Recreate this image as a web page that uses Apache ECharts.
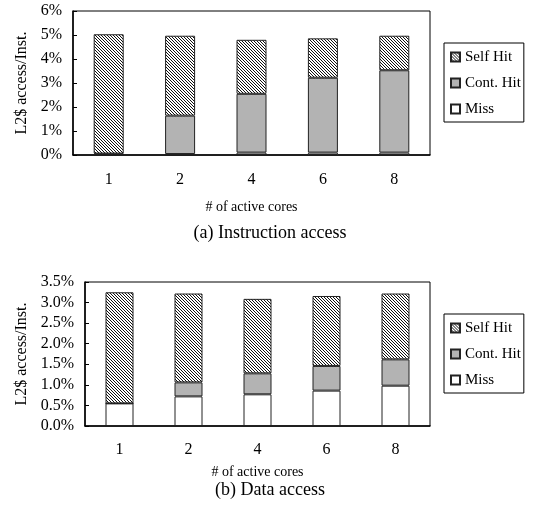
<!DOCTYPE html>
<html>
<head>
<meta charset="utf-8">
<script src="https://cdn.jsdelivr.net/npm/echarts@6/dist/echarts.min.js"></script>
<style>
html,body{margin:0;padding:0;background:#fff}
#main{width:535px;height:517px}
</style>
</head>
<body>
<div id="main"></div>
<script>
var cores = ['1', '2', '4', '6', '8'];

// (a) instruction access, % of instructions
var instMiss = [0.03, 0.04, 0.1, 0.1, 0.1];
var instCont = [0.03, 1.6, 2.45, 3.12, 3.43];
var instSelf = [4.97, 3.33, 2.25, 1.64, 1.44];

// (b) data access
var dataMiss = [0.55, 0.72, 0.77, 0.86, 0.98];
var dataCont = [0.0, 0.34, 0.51, 0.6, 0.64];
var dataSelf = [2.7, 2.16, 1.81, 1.7, 1.6];

var serif = 'Liberation Serif';

// hatch pattern for self hit
var hatch = document.createElement('canvas');
hatch.width = 3;
hatch.height = 3;
var hctx = hatch.getContext('2d');
hctx.fillStyle = '#fff';
hctx.fillRect(0, 0, 3, 3);
hctx.fillStyle = '#111';
for (var i = 0; i < 3; i++) {
	hctx.fillRect(i, i, 1, 1);
}

function bar(name, data, idx, color, w) {
	return {
		name: name,
		type: 'bar',
		stack: 's' + idx,
		xAxisIndex: idx,
		yAxisIndex: idx,
		barWidth: w,
		data: data,
		itemStyle: {color: color, borderColor: '#222', borderWidth: 1},
		animation: false
	};
}

function xAx(idx, margin, gap) {
	return {
		type: 'category',
		gridIndex: idx,
		data: cores,
		name: '# of active cores',
		nameLocation: 'middle',
		nameGap: gap,
		nameTextStyle: {fontFamily: serif, fontSize: 14, color: '#000'},
		axisLine: {lineStyle: {color: '#000', width: 1.5}},
		axisTick: {inside: true, length: 4, lineStyle: {color: '#000'}},
		axisLabel: {fontFamily: serif, fontSize: 16, color: '#000', margin: margin}
	};
}

function yAx(idx, max, step, dec, gap) {
	return {
		type: 'value',
		gridIndex: idx,
		min: 0,
		max: max,
		interval: step,
		name: 'L2$ access/Inst.',
		nameLocation: 'middle',
		nameGap: gap,
		nameTextStyle: {fontFamily: serif, fontSize: 16, color: '#000'},
		splitLine: {show: false},
		axisLine: {show: true, lineStyle: {color: '#000', width: 1.5}},
		axisTick: {show: true, inside: true, length: 4, lineStyle: {color: '#000'}},
		axisLabel: {
			fontFamily: serif, fontSize: 16, color: '#000', margin: 11,
			formatter: function(v) { return v.toFixed(dec) + '%'; }
		}
	};
}

function leg(idx, top) {
	return {
		orient: 'vertical',
		left: 444,
		top: top,
		data: ['Self Hit', 'Cont. Hit', 'Miss'],
		backgroundColor: '#fff',
		borderColor: '#000',
		borderWidth: 1,
		padding: [6, 3, 5, 6],
		itemGap: 10,
		itemWidth: 9,
		itemHeight: 9,
		icon: 'rect',
		selectedMode: false,
		textStyle: {fontFamily: serif, fontSize: 15, color: '#000', lineHeight: 16}
	};
}

var hatchFill = {image: hatch, repeat: 'repeat'};

var chart = echarts.init(document.getElementById('main'));
chart.setOption({
	backgroundColor: '#fff',
	animation: false,
	grid: [
		{left: 73, top: 11, width: 357, height: 144, show: true, borderColor: '#000', borderWidth: 1},
		{left: 85, top: 282, width: 345, height: 144, show: true, borderColor: '#000', borderWidth: 1}
	],
	legend: [leg(0, 43), leg(1, 314)],
	xAxis: [xAx(0, 17, 45), xAx(1, 16, 39)],
	yAxis: [yAx(0, 6, 1, 0, 40), yAx(1, 3.5, 0.5, 1, 50)],
	series: [
		bar('Miss', instMiss, 0, '#fff', 30),
		bar('Cont. Hit', instCont, 0, '#b3b3b3', 30),
		bar('Self Hit', instSelf, 0, hatchFill, 30),
		bar('Miss', dataMiss, 1, '#fff', 28),
		bar('Cont. Hit', dataCont, 1, '#b3b3b3', 28),
		bar('Self Hit', dataSelf, 1, hatchFill, 28)
	],
	graphic: [
		{type: 'text', x: 270, y: 233, style: {text: '(a) Instruction access', font: '18px "Liberation Serif"', fill: '#000', align: 'center', verticalAlign: 'middle'}},
		{type: 'text', x: 270, y: 490, style: {text: '(b) Data access', font: '18px "Liberation Serif"', fill: '#000', align: 'center', verticalAlign: 'middle'}}
	]
});
</script>
</body>
</html>
